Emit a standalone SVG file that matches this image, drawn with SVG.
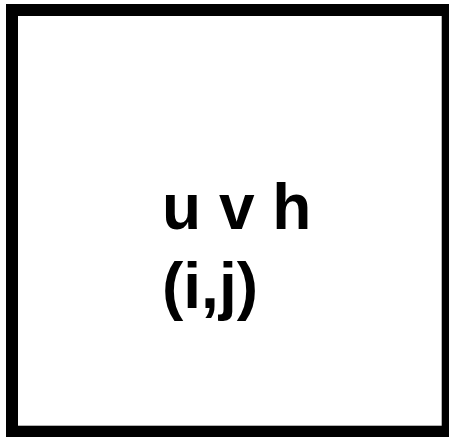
<svg xmlns="http://www.w3.org/2000/svg" width="449" height="437" viewBox="0 0 449 437">
<style>
.lbl{font-family:"Liberation Sans",Arial,sans-serif;font-weight:bold;font-size:64px;fill:#000}
</style>
<rect width="449" height="437" fill="#fff"/>
<g id="cell">
<rect x="12" y="10" width="435.7" height="421.7" fill="#fff" stroke="#000" stroke-width="12"/>
<text class="lbl" x="162" y="229">u v h</text>
<text class="lbl" x="162" y="308">(i,j)</text>
</g>
</svg>
